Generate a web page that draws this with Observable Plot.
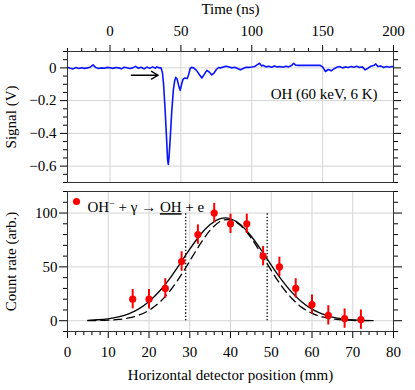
<!DOCTYPE html>
<html><head><meta charset="utf-8">
<script src="https://cdn.jsdelivr.net/npm/d3@7"></script>
<script src="https://cdn.jsdelivr.net/npm/@observablehq/plot@0.6"></script>
<style>
body{margin:0;background:#fff;font-family:"Liberation Serif",serif}
#c{width:415px}
svg{display:block}
</style>
</head><body><div id="c"></div>
<script>
// ---- Top panel: signal trace ----
const times = [-30,-28,-26,-24,-22,-20,-18,-16,-14,-12,-10,-8,-6,-4,-2,0,2,4,6,8,10,12,14,16,18,20,22,24,26,28,30,32,33,34,35,
  36,37,37.8,38.9,40,40.6,41.1,41.6,42.4,43.6,44.7,45.6,46.4,47.3,48.5,49.5,50.5,51.5,52.5,54.5,55.5,56.5,57.5,59,61,63,64.8,66.5,68.3,70,71.8,73.5,75,76.6,78,
  80,82,84,86,88,90,92,94,96,98,100,102,104,105.5,107,108,110,112,114,116,118,120,122,124,126,128,129.6,131,133,148,150,152,154,156,158,160,162,164,166,168,170,172,174,176,178,180,182,184,186,187.5,189,191,193,195,197,199,200];
const signal = [0.003,-0.002,-0.006,0.002,-0.004,0.001,-0.003,0,0.004,0.018,0.002,-0.004,0,-0.002,0.003,0.001,-0.003,0.002,0,-0.006,0.004,0.001,-0.004,0,0.009,-0.002,0.004,-0.006,0.005,-0.003,0.006,-0.002,0.006,0.003,0,
  0,-0.03,-0.1,-0.26,-0.45,-0.56,-0.59,-0.55,-0.44,-0.26,-0.135,-0.08,-0.058,-0.068,-0.11,-0.137,-0.1,-0.07,-0.062,-0.065,-0.04,-0.005,0.003,0,-0.015,-0.04,-0.062,-0.04,-0.015,-0.025,-0.043,-0.03,-0.01,0.002,0,
  0.006,0.01,0.005,0,0.004,-0.004,-0.012,-0.004,0.004,0.003,0.005,0.008,0.02,0.028,0.012,0.016,0.006,0.01,0.004,0.012,0.006,0.008,0.004,0.01,0.006,0.014,0.028,0.016,0.015,0.016,0.006,-0.022,-0.01,-0.018,-0.006,0.004,0.008,0,0.006,0.002,0.008,0.004,0.01,0.002,0.006,-0.012,-0.002,0.01,0.014,0.024,0.008,0.012,0.002,0.008,0.004,0.008,0.006];
const timeMajorTicks = [0,50,100,150,200];
const timeMinorTicks = [-30,-20,-10,10,20,30,40,60,70,80,90,110,120,130,140,160,170,180,190];
const signalMajorTicks = [0,-0.2,-0.4,-0.6];
const signalMinorTicks = [0.1,0.05,-0.05,-0.1,-0.15,-0.25,-0.3,-0.35,-0.45,-0.5,-0.55,-0.65,-0.7];
const arrowFrom = 15, arrowTo = 34, arrowLevel = -0.045;
const topLabel = "OH (60 keV, 6 K)";

// ---- Bottom panel: count rate ----
const positions = [16,20,24,28,32,36,40,44,48,52,56,60,64,68,72];
const counts =    [20,20,30,55,80,100,90,90,60,50,30,15,5,2,1];
const errors =    [9,9,9,9,9,9,9,9,9,9,9,9,9,9,9];
const curveX = [5,7.5,10,12.5,15,17.5,20,22.5,25,27.5,30,32.5,35,37.5,40,42.5,45,47.5,50,52.5,55,57.5,60,62.5,65,67.5,70,72.5,75];
const solidFit = [0.41,0.89,1.82,3.53,6.42,11.0,17.8,27.1,38.7,52.3,66.4,79.4,89.4,94.8,94.7,89.1,78.9,65.8,51.7,38.2,26.6,17.5,10.8,6.28,3.44,1.77,0.86,0.39,0.17];
const dashedFit = [0.07,0.2,0.5,1.17,2.56,5.17,9.67,16.8,27.0,40.2,55.4,70.9,84.0,92.2,93.7,88.3,77.1,62.4,46.7,32.4,20.9,12.4,6.87,3.51,1.67,0.73,0.3,0.11,0.04];
const markerLines = [29,49];
const posMajorTicks = [0,10,20,30,40,50,60,70,80];
const posMinorTicks = d3.range(0,81,2).filter(v => v % 10 !== 0);
const countMajorTicks = [0,50,100];
const countMinorTicks = [-10,10,20,30,40,60,70,80,90,110,120];

const font = "Liberation Serif";
const gridColor = "#d4d4d4";
const frameColor = "#333";
const fmt = d => String(d).replace("-", "\u2212");
const blank = () => "";

const topChart = Plot.plot({
  width: 415, height: 185,
  marginLeft: 67, marginRight: 22, marginTop: 51, marginBottom: 3,
  style: {fontSize: "15px", color: "black", background: "white"},
  x: {domain: [-30, 200]},
  y: {domain: [-0.7, 0.1]},
  marks: [
    Plot.gridX([0,50,100,150], {stroke: gridColor, strokeOpacity: 1}),
    Plot.gridY(signalMajorTicks, {stroke: gridColor, strokeOpacity: 1}),
    Plot.axisX(timeMinorTicks, {anchor: "top", tickSize: 4, tickFormat: blank, label: null}),
    Plot.axisX(timeMajorTicks, {anchor: "top", tickSize: 7, tickPadding: 9, tickFormat: fmt, label: "Time (ns)", labelAnchor: "center", labelArrow: "none", labelOffset: 48, fontFamily: font}),
    Plot.axisY(signalMinorTicks, {anchor: "left", tickSize: 4, tickFormat: blank, label: null}),
    Plot.axisY(signalMajorTicks, {anchor: "left", tickSize: 7, tickPadding: 4, tickFormat: fmt, label: "Signal (V)", labelAnchor: "center", labelArrow: "none", labelOffset: 62, fontFamily: font}),
    Plot.axisY(signalMinorTicks, {anchor: "right", tickSize: 4, tickFormat: blank, label: null}),
    Plot.axisY(signalMajorTicks, {anchor: "right", tickSize: 7, tickFormat: blank, label: null}),
    Plot.line(times, {x: d => d, y: (d, i) => signal[i], stroke: "#0a14ff", strokeWidth: 1.6}),
    Plot.arrow([0], {x1: () => arrowFrom, x2: () => arrowTo, y1: () => arrowLevel, y2: () => arrowLevel, stroke: "black", strokeWidth: 1.3, headLength: 9}),
    Plot.text([topLabel], {text: d => d, frameAnchor: "top-right", dx: -16, dy: 37, textAnchor: "end", fontSize: 15, fontFamily: font}),
    Plot.frame({stroke: frameColor})
  ]
});

const legendText = "OH- + g -> OH + e";
const bottomChart = Plot.plot({
  width: 415, height: 205,
  marginLeft: 67, marginRight: 22, marginTop: 6, marginBottom: 59,
  style: {fontSize: "15px", color: "black", background: "white"},
  x: {domain: [0, 80]},
  y: {domain: [-10, 120]},
  marks: [
    Plot.gridX([10,20,30,40,50,60,70], {stroke: gridColor, strokeOpacity: 1}),
    Plot.gridY(countMajorTicks, {stroke: gridColor, strokeOpacity: 1}),
    Plot.axisX(posMinorTicks, {anchor: "bottom", tickSize: 4, tickFormat: blank, label: null}),
    Plot.axisX(posMajorTicks, {anchor: "bottom", tickSize: 7, tickPadding: 8, tickFormat: fmt, label: "Horizontal detector position (mm)", labelAnchor: "center", labelArrow: "none", labelOffset: 48, fontFamily: font}),
    Plot.axisY(countMinorTicks, {anchor: "left", tickSize: 4, tickFormat: blank, label: null}),
    Plot.axisY(countMajorTicks, {anchor: "left", tickSize: 8, tickPadding: 2, tickFormat: fmt, label: "Count rate (arb.)", labelAnchor: "center", labelArrow: "none", labelOffset: 62, fontFamily: font}),
    Plot.axisY(countMinorTicks, {anchor: "right", tickSize: 4, tickFormat: blank, label: null}),
    Plot.axisY(countMajorTicks, {anchor: "right", tickSize: 8, tickFormat: blank, label: null}),
    Plot.ruleX(markerLines, {y1: 0, y2: 100, stroke: "black", strokeWidth: 1.3, strokeDasharray: "1.3,2"}),
    Plot.line(curveX, {x: d => d, y: (d, i) => dashedFit[i], stroke: "black", strokeWidth: 1.3, strokeDasharray: "8,5", curve: "natural"}),
    Plot.line(curveX, {x: d => d, y: (d, i) => solidFit[i], stroke: "black", strokeWidth: 1.3, curve: "natural"}),
    Plot.ruleX(positions, {x: d => d, y1: (d, i) => counts[i] - errors[i], y2: (d, i) => counts[i] + errors[i], stroke: "#f00", strokeWidth: 2}),
    Plot.dot(positions, {x: d => d, y: (d, i) => counts[i], fill: "#f00", r: 3.6}),
    Plot.dot([0], {frameAnchor: "top-left", dx: 9, dy: 10, fill: "#f00", r: 3.6}),
    Plot.text([legendText], {text: d => d, frameAnchor: "top-left", dx: 20, dy: 10, textAnchor: "start", fontSize: 15, fontFamily: font}),
    Plot.frame({stroke: frameColor})
  ]
});

// rich legend text: superscript minus and underlined OH
d3.select(bottomChart).selectAll("text").each(function() {
  if (this.textContent === legendText) {
    const t = d3.select(this);
    t.text(null);
    t.append("tspan").text("OH");
    t.append("tspan").attr("dy", "-5").attr("font-size", "10px").text("\u2212");
    t.append("tspan").attr("dy", "5").text(" + \u03b3 \u2192 ");
    t.append("tspan").attr("text-decoration", "underline").style("text-decoration", "underline").text("OH");
    t.append("tspan").text(" + e");
  }
});

for (const svg of [topChart, bottomChart]) {
  svg.setAttribute("font-family", font);
  svg.style.fontFamily = "'Liberation Serif'";
  d3.select(svg).selectAll("text").attr("font-family", font).style("font-family", "'Liberation Serif'");
}

const c = document.getElementById("c");
c.appendChild(topChart);
c.appendChild(bottomChart);
</script>
</body></html>
